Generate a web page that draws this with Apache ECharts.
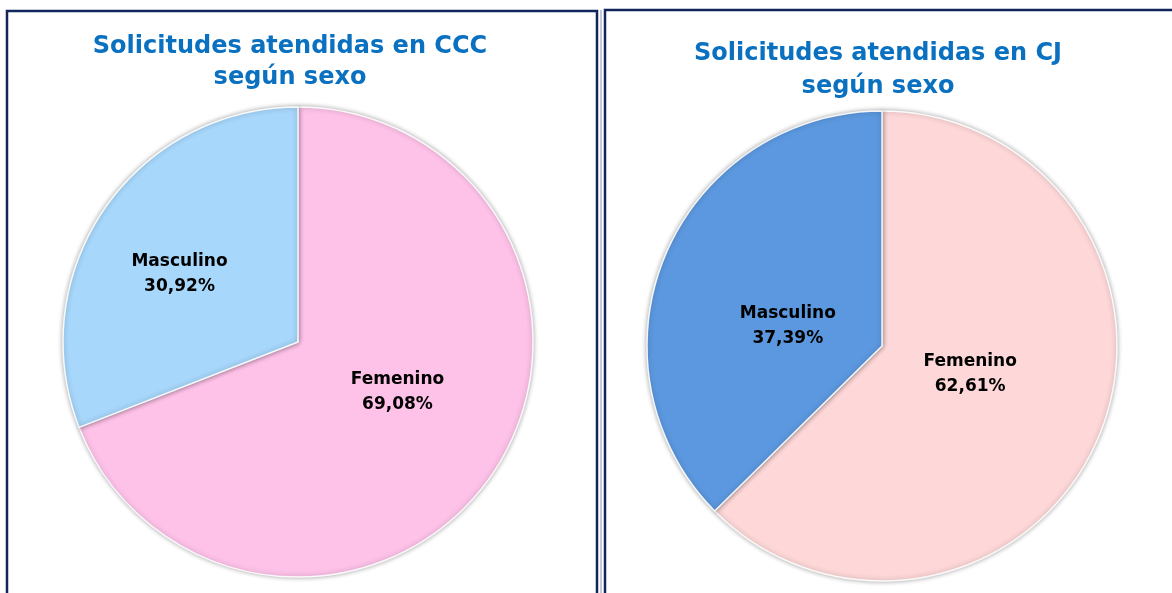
<!DOCTYPE html>
<html><head><meta charset="utf-8">
<script src="https://cdn.jsdelivr.net/npm/echarts@6/dist/echarts.min.js"></script>
<style>html,body{margin:0;padding:0;background:#fff}#c{width:1172px;height:593px}</style>
</head><body><div id="c"></div>
<script>
const categories = ['Femenino', 'Masculino'];
const cccValues = [69.08, 30.92];
const cjValues = [62.61, 37.39];
const titles = ['Solicitudes atendidas en CCC\nsegún sexo', 'Solicitudes atendidas en CJ\nsegún sexo'];

const chart = echarts.init(document.getElementById('c'));
const fmt = p => p.name + '\n' + p.value.toFixed(2).replace('.', ',') + '%';
const labelStyle = {show: true, position: 'inside', formatter: fmt, fontFamily: 'DejaVu Sans', fontWeight: 'bold', fontSize: 17, lineHeight: 25, color: '#000'};

function makeData(vals, colors, offsets) {
  return categories.map((c, i) => ({
    name: c, value: vals[i],
    itemStyle: {color: colors[i]},
    label: {offset: offsets[i]}
  }));
}

chart.setOption({
  animation: false,
  title: [
    {text: titles[0], left: 285, top: 26, textAlign: 'center', textStyle: {fontFamily: 'DejaVu Sans', fontWeight: 'bold', fontSize: 24, lineHeight: 31, color: '#0A70C0'}},
    {text: titles[1], left: 873, top: 32, textAlign: 'center', textStyle: {fontFamily: 'DejaVu Sans', fontWeight: 'bold', fontSize: 24, lineHeight: 33, color: '#0A70C0'}}
  ],
  graphic: [
    {type: 'rect', shape: {x: 7, y: 11, width: 590, height: 600}, style: {fill: 'none', stroke: '#13265C', lineWidth: 2.5}},
    {type: 'line', shape: {x1: 601, y1: 10, x2: 601, y2: 600}, style: {stroke: '#8A93B0', lineWidth: 1}},
    {type: 'rect', shape: {x: 605, y: 10, width: 600, height: 600}, style: {fill: 'none', stroke: '#13265C', lineWidth: 2.5}}
  ],
  series: [
    {
      type: 'pie', center: [298, 342], radius: 235, startAngle: 90, clockwise: true,
      label: labelStyle, labelLine: {show: false},
      itemStyle: {borderColor: 'rgba(255,255,255,0.9)', borderWidth: 1.5, shadowBlur: 5, shadowColor: 'rgba(0,0,0,0.35)'},
      emphasis: {disabled: true},
      data: makeData(cccValues, ['#FEC2E9', '#A7D7FB'], [[0, -18], [-19, 0]])
    },
    {
      type: 'pie', center: [882, 346], radius: 235, startAngle: 90, clockwise: true,
      label: labelStyle, labelLine: {show: false},
      itemStyle: {borderColor: 'rgba(255,255,255,0.9)', borderWidth: 1.5, shadowBlur: 5, shadowColor: 'rgba(0,0,0,0.35)'},
      emphasis: {disabled: true},
      data: makeData(cjValues, ['#FED8D8', '#5C98DF'], [[-23, -18], [17, 27]])
    }
  ]
});
</script></body></html>
